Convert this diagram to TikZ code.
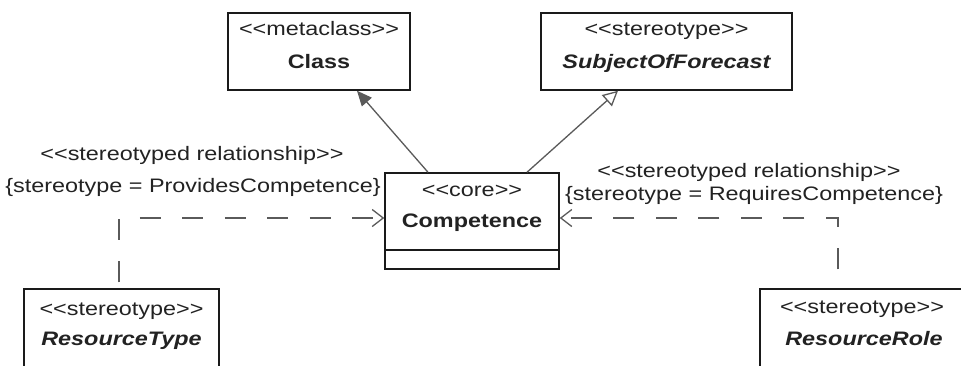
\documentclass[tikz,border=0pt]{standalone}
\usepackage{fontspec}
\setmainfont{Liberation Sans}[FakeStretch=1.2]
\usetikzlibrary{arrows.meta}
\definecolor{boxline}{HTML}{1A1A1A}
\definecolor{conn}{HTML}{5A5A5A}
\definecolor{txtc}{HTML}{222222}
\tikzset{
  umlbox/.style={draw=boxline, line width=1.5pt, inner sep=0pt, minimum width=#1},
  lbl/.style={inner sep=0pt, yshift=-3pt, text=txtc, font=\fontsize{19.5}{22}\selectfont, text height=0.72em, text depth=0.2em},
  blbl/.style={lbl, font=\fontsize{19.5}{22}\selectfont\bfseries},
  bilbl/.style={lbl, font=\fontsize{19.5}{22}\selectfont\bfseries\itshape},
  gen/.style={draw=conn, line width=1.3pt},
  dep/.style={draw=conn, line width=1.3pt, dash pattern=on 21pt off 21.5pt, -{Straight Barb[length=11pt,width=17pt,line width=1.3pt]}}
}
\begin{document}
\begin{tikzpicture}[x=1pt,y=-1pt]
\useasboundingbox (0,0) rectangle (961,365);
\clip (0,0) rectangle (961,365);
\fill[white] (0,0) rectangle (961,365);
% boxes
\node[umlbox=182pt, minimum height=77pt] (cls) at (319,51.5) {};
\node[umlbox=251pt, minimum height=77pt] (sof) at (666.5,51.5) {};
\node[umlbox=174pt, minimum height=96pt] (comp) at (472,221) {};
\node[umlbox=195pt, minimum height=100pt] (rt) at (121.5,339) {};
\node[umlbox=203pt, minimum height=100pt] (rr) at (861.5,339) {};
\draw[boxline, line width=1.5pt] (comp.west |- 0,250) -- (comp.east |- 0,250);
% texts
\node[lbl] (t1) at (319,30) {<{}<{}metaclass>{}>};
\node[blbl] (t2) at (319,63) {Class};
\node[lbl] (t3) at (666.5,30) {<{}<{}stereotype>{}>};
\node[bilbl] (t4) at (666.5,63) {SubjectOfForecast};
\node[lbl] (t5) at (472,191) {<{}<{}core>{}>};
\node[blbl] (t6) at (472,222) {Competence};
\node[lbl] (t7) at (121.5,310) {<{}<{}stereotype>{}>};
\node[bilbl] (t8) at (121.5,340) {ResourceType};
\node[lbl] (t9) at (862,308) {<{}<{}stereotype>{}>};
\node[bilbl] (t10) at (864,340) {ResourceRole};
\node[lbl] (l1) at (192,155) {<{}<{}stereotyped relationship>{}>};
\node[lbl] (l2) at (193,187) {\{stereotype = ProvidesCompetence\}};
\node[lbl] (l3) at (749,172) {<{}<{}stereotyped relationship>{}>};
\node[lbl] (l4) at (754,195) {\{stereotype = RequiresCompetence\}};
% generalisations
\draw[gen, -{Triangle[length=15pt,width=13pt,fill=conn]}] ([xshift=-44pt]comp.north) -- ([xshift=38pt]cls.south);
\draw[gen, -{Triangle[open,length=15pt,width=15pt,fill=white]}] ([xshift=55pt]comp.north) -- ([xshift=-48.5pt]sof.south);
% dependencies
\draw[dep, dash phase=36.5pt] ([xshift=-2.5pt]rt.north) |- ([yshift=3pt]comp.west);
\draw[dep, dash phase=23.5pt] ([xshift=-23.5pt]rr.north) |- ([yshift=3pt]comp.east);
\end{tikzpicture}
\end{document}
